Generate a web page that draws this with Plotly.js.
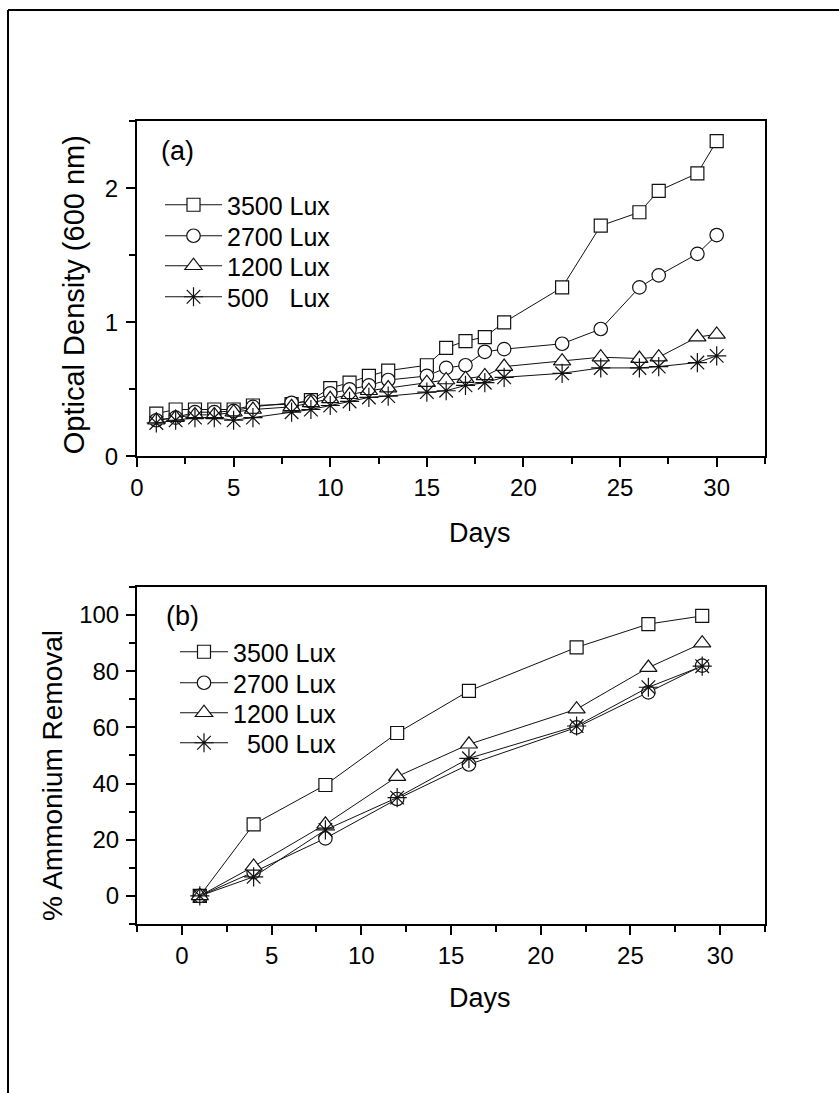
<!DOCTYPE html>
<html>
<head>
<meta charset="utf-8">
<script src="https://cdn.plot.ly/plotly-3.0.1.min.js"></script>
<style>
  html, body { margin: 0; padding: 0; background: #fff; }
  #chart { width: 839px; height: 1093px; }
</style>
</head>
<body>
<div id="chart"></div>
<script>
// ---------- Data (a): Optical density vs days ----------
const daysA = [1, 2, 3, 4, 5, 6, 8, 9, 10, 11, 12, 13, 15, 16, 17, 18, 19, 22, 24, 26, 27, 29, 30];
const od3500 = [0.32, 0.35, 0.35, 0.35, 0.35, 0.38, 0.39, 0.42, 0.51, 0.55, 0.60, 0.64, 0.68, 0.81, 0.86, 0.89, 1.00, 1.26, 1.72, 1.82, 1.98, 2.11, 2.35];
const od2700 = [0.27, 0.29, 0.33, 0.33, 0.34, 0.37, 0.40, 0.41, 0.47, 0.50, 0.53, 0.57, 0.60, 0.66, 0.68, 0.78, 0.80, 0.84, 0.95, 1.26, 1.35, 1.51, 1.65];
const od1200 = [0.27, 0.29, 0.31, 0.31, 0.33, 0.35, 0.37, 0.40, 0.43, 0.46, 0.49, 0.51, 0.55, 0.57, 0.58, 0.60, 0.67, 0.71, 0.74, 0.73, 0.74, 0.89, 0.91];
const od500  = [0.25, 0.27, 0.29, 0.29, 0.27, 0.29, 0.33, 0.35, 0.38, 0.41, 0.44, 0.45, 0.48, 0.49, 0.53, 0.55, 0.59, 0.62, 0.66, 0.66, 0.67, 0.70, 0.75];

// ---------- Data (b): % Ammonium removal vs days ----------
const daysB = [1, 4, 8, 12, 16, 22, 26, 29];
const nh3500 = [0, 25.5, 39.5, 58, 73, 88.5, 96.8, 99.7];
const nh2700 = [0, 8.5, 20.5, 34.5, 46.8, 60, 72.5, 82];
const nh1200 = [0, 10.5, 25.5, 42.5, 54, 66.5, 81.3, 90];
const nh500  = [0, 6.8, 23.5, 35, 49, 60.5, 74.3, 81.8];

// ---------- Labels ----------
const namesA = ["3500 Lux", "2700 Lux", "1200 Lux", "500\u00a0\u00a0\u00a0Lux"];
const namesB = ["3500 Lux", "2700 Lux", "1200 Lux", "\u00a0\u00a0500 Lux"];
const titleA_y = "Optical Density (600 nm)";
const titleB_y = "% Ammonium Removal";
const titleX = "Days";
const panelA = "(a)";
const panelB = "(b)";

const symbols = ["square", "circle", "triangle-up", "asterisk-open"];
const sizes = [13, 13.5, 15, 16];
const FONT = "Liberation Sans, Arial, sans-serif";
const INK = "#111";

function mk(x, y, i, name, xa, ya, leg) {
  const isLineSym = symbols[i].indexOf("asterisk") === 0;
  return {
    x: x, y: y, name: name, type: "scatter", mode: "lines+markers",
    xaxis: xa, yaxis: ya, legend: leg,
    line: { color: INK, width: 1 },
    marker: {
      symbol: symbols[i], size: sizes[i], color: isLineSym ? INK : "white",
      line: { color: INK, width: 1.2 }
    }
  };
}

const seriesA = [od3500, od2700, od1200, od500];
const seriesB = [nh3500, nh2700, nh1200, nh500];
const traces = [];
seriesA.forEach((s, i) => traces.push(mk(daysA, s, i, namesA[i], "x", "y", i === 0 ? "legend" : "legend" + (i + 1))));
seriesB.forEach((s, i) => traces.push(mk(daysB, s, i, namesB[i], "x2", "y2", "legend" + (i + 5))));

const axisCommon = {
  showline: true, linecolor: "#000", linewidth: 2, mirror: true,
  ticks: "outside", ticklen: 9, tickwidth: 2, tickcolor: "#000",
  showgrid: false, zeroline: false,
  tickfont: { family: FONT, size: 24, color: "#000" },
};
const minorX = { dtick: 2.5, ticklen: 6, tickwidth: 2, tickcolor: "#000", ticks: "outside" };

const layout = {
  width: 839, height: 1093,
  margin: { l: 137, r: 74, t: 121, b: 169 },
  paper_bgcolor: "#fff", plot_bgcolor: "#fff",
  font: { family: FONT, color: "#000" },
  showlegend: true,
  xaxis: Object.assign({}, axisCommon, {
    domain: [0, 1], anchor: "y", range: [0, 32.5], dtick: 5, tick0: 0, minor: minorX
  }),
  yaxis: Object.assign({}, axisCommon, {
    domain: [0.5822, 1], anchor: "x", range: [0, 2.5], dtick: 1, tick0: 0, ticklabelstandoff: 3,
    minor: { dtick: 0.5, ticklen: 6, tickwidth: 2, tickcolor: "#000", ticks: "outside" }
  }),
  xaxis2: Object.assign({}, axisCommon, {
    domain: [0, 1], anchor: "y2", range: [-2.5, 32.5], dtick: 5, tick0: 0, minor: minorX
  }),
  yaxis2: Object.assign({}, axisCommon, {
    domain: [0, 0.4197], anchor: "x2", range: [-10, 110], dtick: 20, tick0: 0, ticklabelstandoff: 2,
    minor: { dtick: 10, ticklen: 6, tickwidth: 2, tickcolor: "#000", ticks: "outside" }
  }),
  annotations: [
    { text: panelA, xref: "paper", yref: "paper", x: 0.0642, y: 0.963, xanchor: "center", yanchor: "middle",
      showarrow: false, font: { family: FONT, size: 27, color: "#000" } },
    { text: panelB, xref: "paper", yref: "paper", x: 0.0732, y: 0.3836, xanchor: "center", yanchor: "middle",
      showarrow: false, font: { family: FONT, size: 27, color: "#000" } },
    { text: titleX, xref: "paper", yref: "paper", x: 0.546, y: 0.4869, xanchor: "center", yanchor: "middle",
      showarrow: false, font: { family: FONT, size: 27, color: "#000" } },
    { text: titleX, xref: "paper", yref: "paper", x: 0.546, y: -0.0922, xanchor: "center", yanchor: "middle",
      showarrow: false, font: { family: FONT, size: 27, color: "#000" } },
    { text: titleA_y, xref: "paper", yref: "paper", x: -0.1, y: 0.7833, xanchor: "center", yanchor: "middle",
      textangle: -90, showarrow: false, font: { family: FONT, size: 29, color: "#000" } },
    { text: titleB_y, xref: "paper", yref: "paper", x: -0.1338, y: 0.1856, xanchor: "center", yanchor: "middle",
      textangle: -90, showarrow: false, font: { family: FONT, size: 28, color: "#000" } }
  ],
  shapes: [
    { type: "line", xref: "paper", yref: "paper", x0: -0.2054, x1: -0.2054, y0: 1.1382, y1: -0.25,
      line: { color: "#000", width: 2 } },
    { type: "line", xref: "paper", yref: "paper", x0: -0.2054, x1: 1.2, y0: 1.1382, y1: 1.1382,
      line: { color: "#000", width: 2 } }
  ]
};

// one single-item legend per series so each row sits where the reference has it
const rowsA = [205, 236, 266, 297];
const rowsB = [652, 683, 713, 743];
function legendAt(xpx, ypx, iw) {
  return {
    x: (xpx - 137) / 628, y: (924 - ypx) / 803, xanchor: "left", yanchor: "middle",
    bgcolor: "rgba(0,0,0,0)", borderwidth: 0, itemwidth: iw,
    font: { family: FONT, size: 25, color: "#000" }
  };
}
rowsA.forEach((r, i) => { layout[i === 0 ? "legend" : "legend" + (i + 1)] = legendAt(160, r, 57); });
rowsB.forEach((r, i) => { layout["legend" + (i + 5)] = legendAt(175, r, 48); });

Plotly.newPlot("chart", traces, layout, { displayModeBar: false, staticPlot: true });
</script>
</body>
</html>
